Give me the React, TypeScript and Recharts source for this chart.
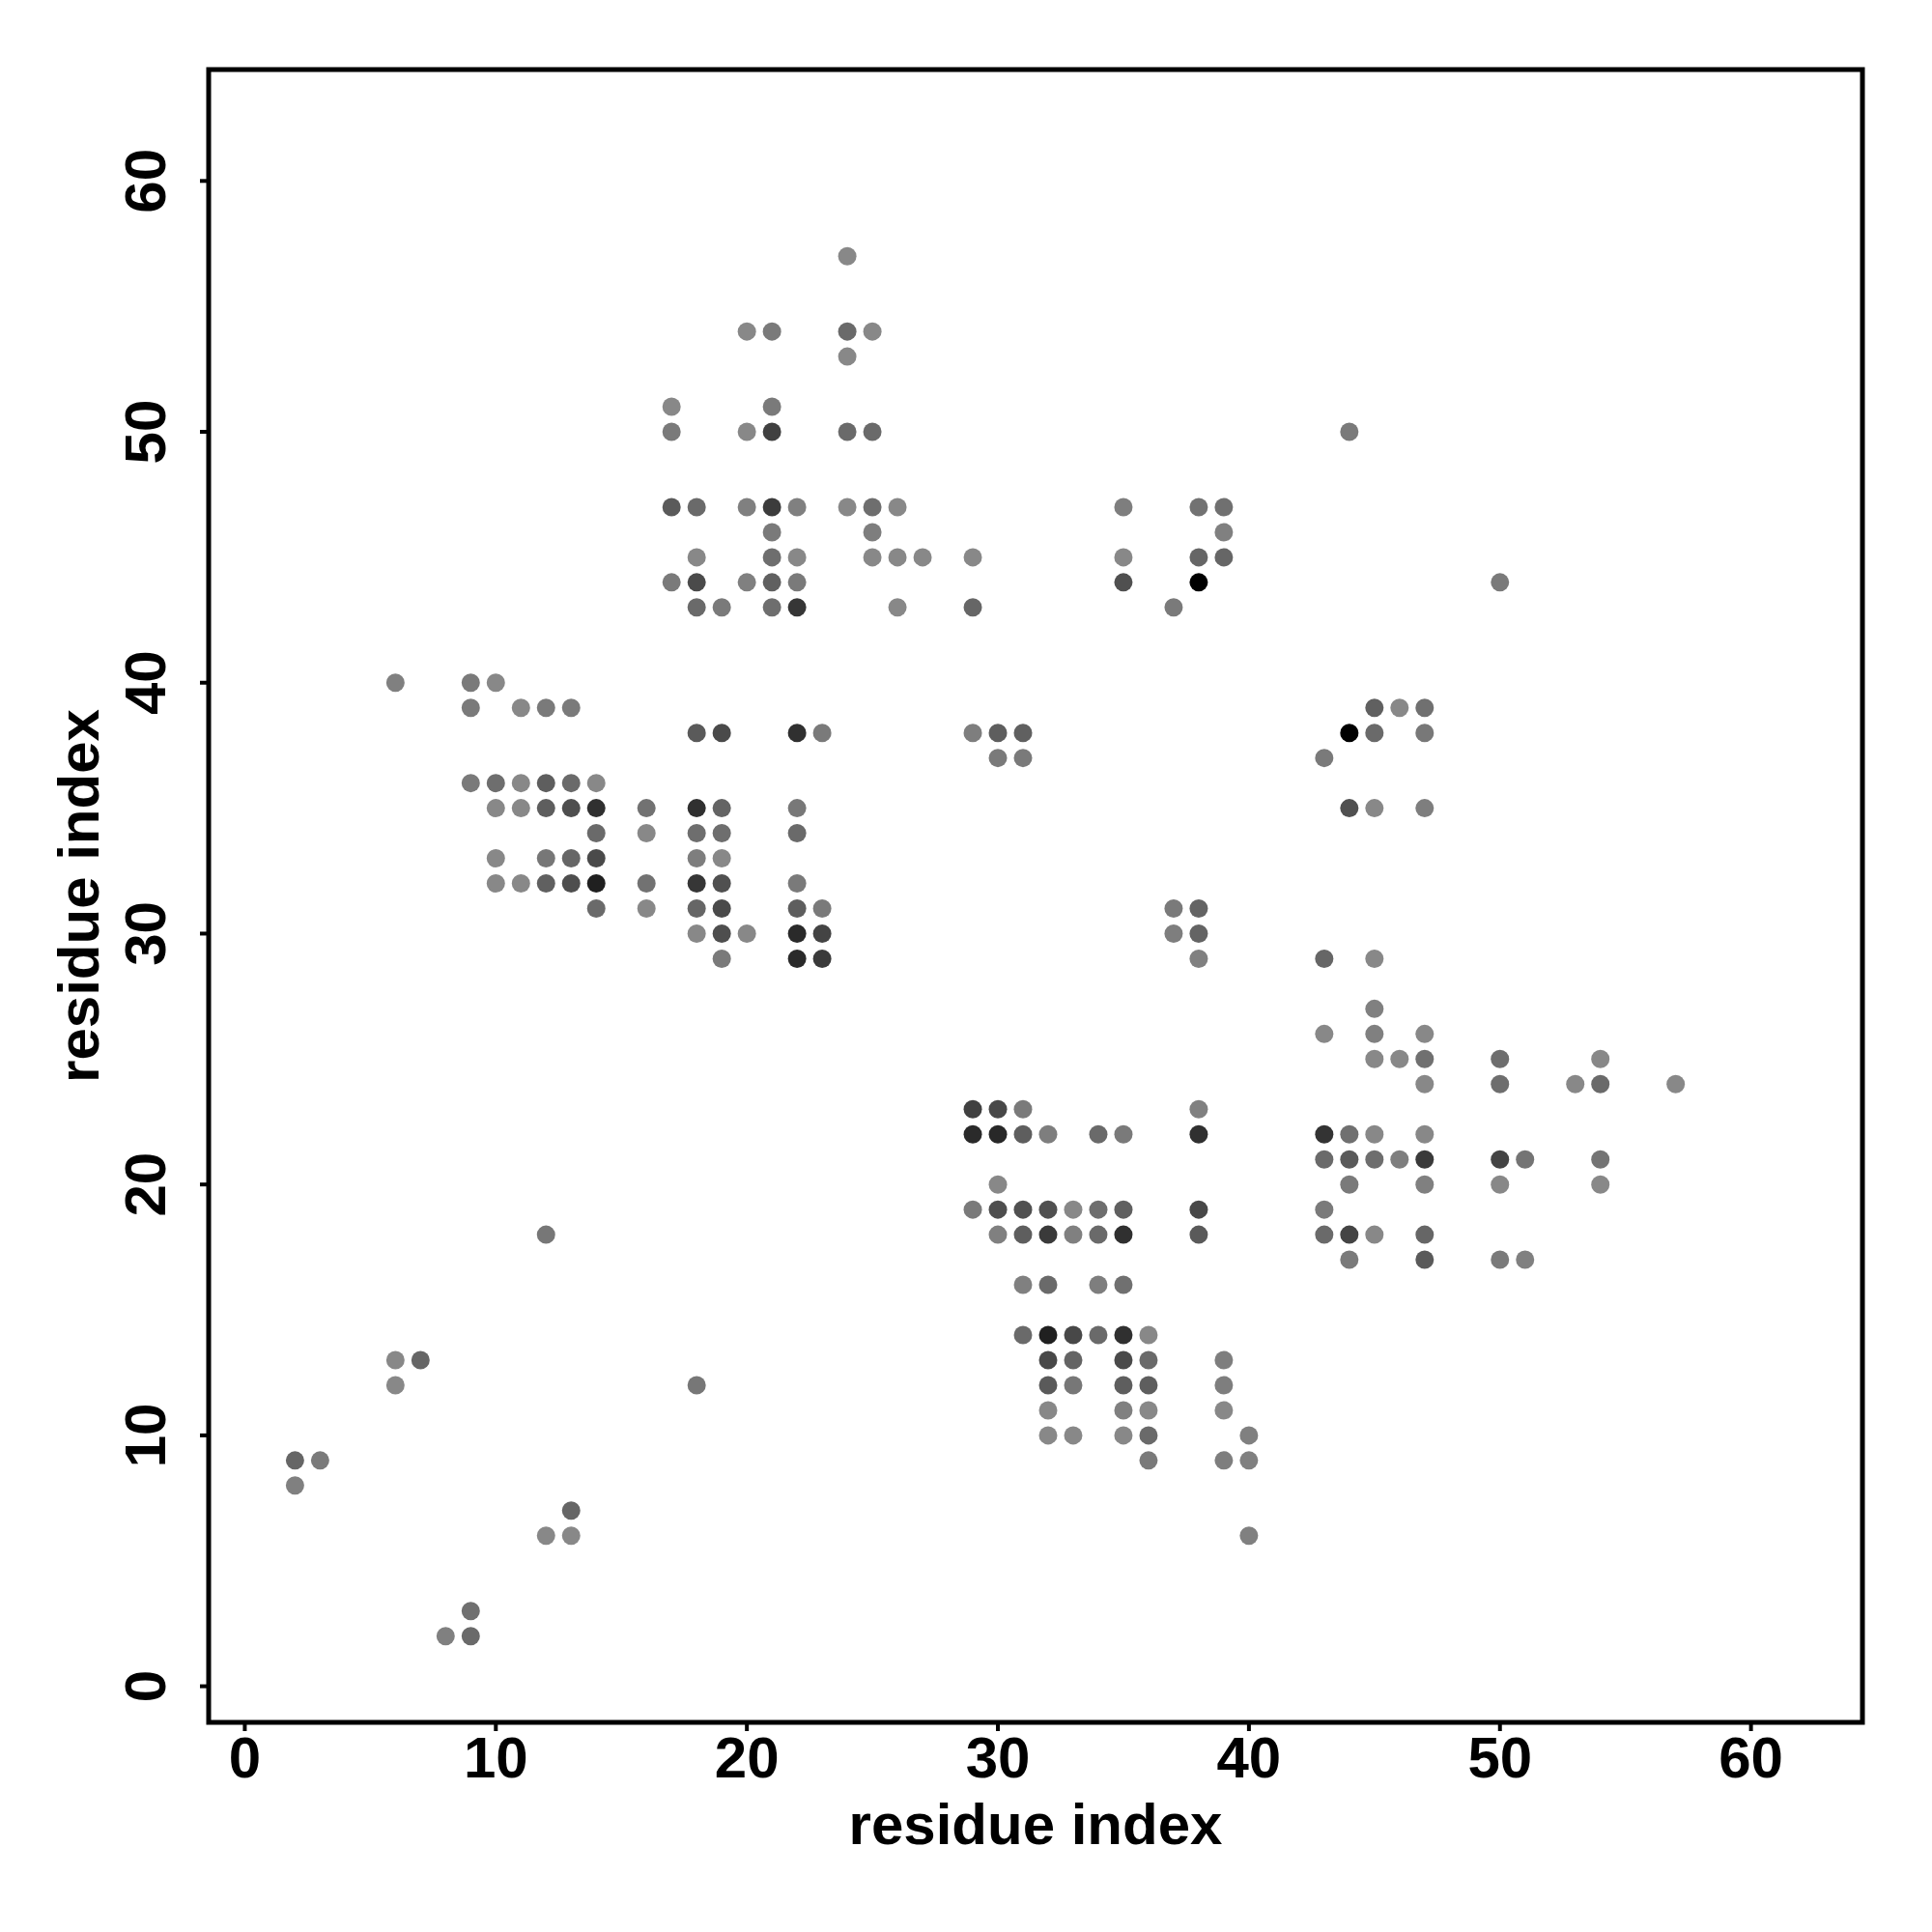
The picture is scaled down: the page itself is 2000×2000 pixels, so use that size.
import { ReferenceArea, Scatter, ScatterChart, XAxis, YAxis } from 'recharts';

// [x residue, y residue, grey level 0-255]
type Contact = [number, number, number];

const lowerLeft: Contact[] = [
  [2, 9, 0x66], [3, 9, 0x7a], [2, 8, 0x80], [6, 13, 0x88], [7, 13, 0x66], [6, 12, 0x88],
  [12, 18, 0x77], [18, 12, 0x77], [13, 7, 0x66], [12, 6, 0x88], [13, 6, 0x88],
  [9, 3, 0x70], [8, 2, 0x80], [9, 2, 0x6a],
];

const upperLeft: Contact[] = [
  [6, 40, 0x80], [9, 40, 0x7a], [10, 40, 0x88],
  [9, 39, 0x7a], [11, 39, 0x88], [12, 39, 0x7a], [13, 39, 0x7a],
  [18, 38, 0x5a], [19, 38, 0x4a], [22, 38, 0x30], [23, 38, 0x7a],
  [9, 36, 0x7a], [10, 36, 0x6e], [11, 36, 0x88], [12, 36, 0x5e], [13, 36, 0x6a], [14, 36, 0x88],
  [10, 35, 0x88], [11, 35, 0x88], [12, 35, 0x5e], [13, 35, 0x4e], [14, 35, 0x30], [16, 35, 0x72],
  [18, 35, 0x30], [19, 35, 0x64], [22, 35, 0x78],
  [14, 34, 0x6a], [16, 34, 0x88], [18, 34, 0x6e], [19, 34, 0x6e], [22, 34, 0x6a],
  [10, 33, 0x88], [12, 33, 0x77], [13, 33, 0x66], [14, 33, 0x4a], [18, 33, 0x7e], [19, 33, 0x88],
  [10, 32, 0x88], [11, 32, 0x88], [12, 32, 0x60], [13, 32, 0x4e], [14, 32, 0x20], [16, 32, 0x72],
  [18, 32, 0x36], [19, 32, 0x50], [22, 32, 0x7a],
  [14, 31, 0x6a], [16, 31, 0x88], [18, 31, 0x66], [19, 31, 0x4a], [22, 31, 0x5e], [23, 31, 0x7a],
  [18, 30, 0x88], [19, 30, 0x4e], [20, 30, 0x88], [22, 30, 0x2a], [23, 30, 0x44],
  [19, 29, 0x7a], [22, 29, 0x2a], [23, 29, 0x3a],
];

const topBlock: Contact[] = [
  [24, 57, 0x88],
  [20, 54, 0x88], [21, 54, 0x7a], [24, 54, 0x6a], [25, 54, 0x88],
  [24, 53, 0x88],
  [17, 51, 0x88], [21, 51, 0x7a],
  [17, 50, 0x7a], [20, 50, 0x88], [21, 50, 0x40], [24, 50, 0x6a], [25, 50, 0x6a],
  [17, 47, 0x5a], [18, 47, 0x6a], [20, 47, 0x80], [21, 47, 0x3c], [22, 47, 0x80], [24, 47, 0x88],
  [25, 47, 0x6e], [26, 47, 0x88],
  [21, 46, 0x7a], [25, 46, 0x7e],
  [18, 45, 0x88], [21, 45, 0x6e], [22, 45, 0x88], [25, 45, 0x88], [26, 45, 0x88], [27, 45, 0x88],
  [29, 45, 0x88],
  [17, 44, 0x7a], [18, 44, 0x4a], [20, 44, 0x80], [21, 44, 0x60], [22, 44, 0x7a],
  [18, 43, 0x6a], [19, 43, 0x7a], [21, 43, 0x6e], [22, 43, 0x36], [26, 43, 0x88], [29, 43, 0x66],
];

const topRight: Contact[] = [
  [35, 47, 0x7e], [38, 47, 0x72], [39, 47, 0x70], [39, 46, 0x80],
  [35, 45, 0x88], [38, 45, 0x66], [39, 45, 0x66], [35, 44, 0x50], [38, 44, 0x00], [37, 43, 0x7a],
  [44, 50, 0x7a], [50, 44, 0x7a],
  [29, 38, 0x7e], [30, 38, 0x5e], [31, 38, 0x60], [30, 37, 0x7a], [31, 37, 0x7a],
  [37, 31, 0x7a], [38, 31, 0x64], [37, 30, 0x7e], [38, 30, 0x64], [38, 29, 0x80],
  [45, 39, 0x60], [46, 39, 0x88], [47, 39, 0x70], [44, 38, 0x00], [45, 38, 0x6a], [47, 38, 0x78],
  [43, 37, 0x7a], [44, 35, 0x50], [45, 35, 0x88], [47, 35, 0x7e],
];

const rightBlock: Contact[] = [
  [43, 29, 0x66], [45, 29, 0x88], [45, 27, 0x80], [43, 26, 0x88], [45, 26, 0x80], [47, 26, 0x88],
  [45, 25, 0x88], [46, 25, 0x88], [47, 25, 0x70], [50, 25, 0x6e], [54, 25, 0x88],
  [47, 24, 0x88], [50, 24, 0x6e], [53, 24, 0x88], [54, 24, 0x6a], [57, 24, 0x88],
  [43, 22, 0x33], [44, 22, 0x70], [45, 22, 0x88], [47, 22, 0x88],
  [43, 21, 0x6a], [44, 21, 0x5a], [45, 21, 0x6e], [46, 21, 0x7e], [47, 21, 0x3a], [50, 21, 0x44],
  [51, 21, 0x74], [54, 21, 0x74],
  [44, 20, 0x7a], [47, 20, 0x80], [50, 20, 0x88], [54, 20, 0x88],
  [43, 19, 0x7a],
  [43, 18, 0x6a], [44, 18, 0x44], [45, 18, 0x88], [47, 18, 0x66],
  [44, 17, 0x7a], [47, 17, 0x5a], [50, 17, 0x7a], [51, 17, 0x80],
];

const lowerBlock: Contact[] = [
  [29, 23, 0x40], [30, 23, 0x48], [31, 23, 0x7a], [38, 23, 0x80],
  [29, 22, 0x2a], [30, 22, 0x28], [31, 22, 0x5e], [32, 22, 0x7e], [34, 22, 0x6a], [35, 22, 0x7a],
  [38, 22, 0x30],
  [30, 20, 0x88],
  [29, 19, 0x7a], [30, 19, 0x4e], [31, 19, 0x50], [32, 19, 0x50], [33, 19, 0x88], [34, 19, 0x6e],
  [35, 19, 0x60], [38, 19, 0x48],
  [30, 18, 0x80], [31, 18, 0x5e], [32, 18, 0x3a], [33, 18, 0x80], [34, 18, 0x6a], [35, 18, 0x30],
  [38, 18, 0x5a],
  [31, 16, 0x80], [32, 16, 0x6a], [34, 16, 0x7e], [35, 16, 0x70],
  [31, 14, 0x6a], [32, 14, 0x20], [33, 14, 0x48], [34, 14, 0x6a], [35, 14, 0x30], [36, 14, 0x88],
  [32, 13, 0x48], [33, 13, 0x64], [35, 13, 0x4a], [36, 13, 0x6a], [39, 13, 0x7e],
  [32, 12, 0x5a], [33, 12, 0x77], [35, 12, 0x5e], [36, 12, 0x5e], [39, 12, 0x7e],
  [32, 11, 0x88], [35, 11, 0x80], [36, 11, 0x88], [39, 11, 0x88],
  [32, 10, 0x88], [33, 10, 0x88], [35, 10, 0x88], [36, 10, 0x6a], [40, 10, 0x80],
  [36, 9, 0x7a], [39, 9, 0x7e], [40, 9, 0x80],
  [40, 6, 0x80],
];

const axisTicks = [0, 10, 20, 30, 40, 50, 60];
const axisDomain: [number, number] = [-1.44, 64.44];
const axisTitle = 'residue index';

const points = [...lowerLeft, ...upperLeft, ...topBlock, ...topRight, ...rightBlock, ...lowerBlock].map(
  ([x, y, g]) => ({ x, y, fill: `rgb(${g},${g},${g})` }),
);

const FONT = '"Liberation Sans", Arial, Helvetica, sans-serif';

function XTick({ x, y, payload }: any) {
  return (
    <text x={x} y={y + 48} textAnchor="middle" fontFamily={FONT} fontWeight="bold" fontSize={60} fill="#000">
      {payload.value}
    </text>
  );
}

function YTick({ x, y, payload }: any) {
  return (
    <text
      transform={`translate(${x - 36},${y}) rotate(-90)`}
      textAnchor="middle"
      fontFamily={FONT}
      fontWeight="bold"
      fontSize={60}
      fill="#000"
    >
      {payload.value}
    </text>
  );
}

export default function App() {
  return (
    <div style={{ position: 'absolute', left: 0, top: 0, background: '#fff' }}>
      <ScatterChart width={2000} height={2000} margin={{ top: 72, right: 72, bottom: 0, left: 0 }}>
        <XAxis
          type="number"
          dataKey="x"
          domain={axisDomain}
          allowDataOverflow
          ticks={axisTicks}
          height={217}
          axisLine={false}
          tickLine={{ stroke: '#000', strokeWidth: 4 }}
          tickSize={9}
          tickMargin={0}
          tick={<XTick />}
          label={{
            value: axisTitle,
            content: (p: any) => (
              <text
                x={p.viewBox.x + p.viewBox.width / 2}
                y={p.viewBox.y + 126}
                textAnchor="middle"
                fontFamily={FONT}
                fontWeight="bold"
                fontSize={60}
                fill="#000"
              >
                {axisTitle}
              </text>
            ),
          }}
        />
        <YAxis
          type="number"
          dataKey="y"
          domain={axisDomain}
          allowDataOverflow
          ticks={axisTicks}
          width={216}
          axisLine={false}
          tickLine={{ stroke: '#000', strokeWidth: 4 }}
          tickSize={9}
          tickMargin={0}
          tick={<YTick />}
          label={{
            value: axisTitle,
            content: (p: any) => (
              <text
                transform={`translate(${p.viewBox.x + 102},${p.viewBox.y + p.viewBox.height / 2}) rotate(-90)`}
                textAnchor="middle"
                fontFamily={FONT}
                fontWeight="bold"
                fontSize={60}
                fill="#000"
              >
                {axisTitle}
              </text>
            ),
          }}
        />
        <Scatter
          data={points}
          isAnimationActive={false}
          shape={(p: any) => <circle cx={p.cx} cy={p.cy} r={9.5} fill={p.payload.fill} />}
        />
        <ReferenceArea
          x1={axisDomain[0]}
          x2={axisDomain[1]}
          y1={axisDomain[0]}
          y2={axisDomain[1]}
          fill="none"
          fillOpacity={0}
          stroke="#000"
          strokeWidth={5}
        />
      </ScatterChart>
    </div>
  );
}
